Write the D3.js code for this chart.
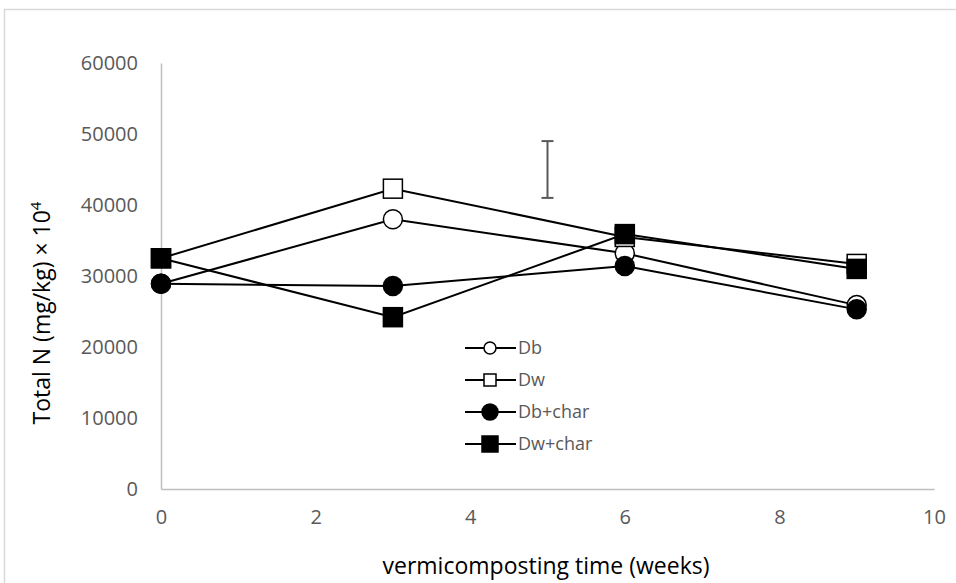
<!DOCTYPE html>
<html>
<head>
<meta charset="utf-8">
<script src="https://cdn.jsdelivr.net/npm/d3@7"></script>
<style>
  body { margin: 0; background: #fff; }
</style>
</head>
<body>
<div id="chart-area"></div>
<script>

// Data
let weeks = [0, 3, 6, 9];
let db = [28900, 38000, 33200, 25900];
let dw = [32500, 42300, 35500, 31700];
let dbChar = [28900, 28600, 31400, 25300];
let dwChar = [32500, 24200, 35900, 31000];
let seriesNames = ["Db", "Dw", "Db+char", "Dw+char"];
let xTicks = [0, 2, 4, 6, 8, 10];
let yTicks = [0, 10000, 20000, 30000, 40000, 50000, 60000];
// single error bar shown in the plot (week 5)
let errWeek = 5;
let errRange = [41000, 49000];

let font = "'Open Sans', sans-serif";

// SVG drawing area
let margin = {top: 63, right: 22, bottom: 94, left: 161};
let width = 956 - margin.left - margin.right,
    height = 583 - margin.top - margin.bottom;

let root = d3.select("#chart-area").append("svg")
    .attr("width", 956)
    .attr("height", 583);

// chart border
root.append("rect")
    .attr("x", 4.5).attr("y", 9.5)
    .attr("width", 990).attr("height", 620)
    .attr("fill", "none")
    .attr("stroke", "#d9d9d9")
    .attr("stroke-width", 1.5);

let svg = root.append("g")
    .attr("transform", "translate(" + margin.left + "," + margin.top + ")");

// Scales
let x = d3.scaleLinear().domain([0, 10]).range([0, width]);
let y = d3.scaleLinear().domain([0, 60000]).range([height, 0]);

// Axes
let xAxis = d3.axisBottom(x).tickValues(xTicks).tickSize(0).tickPadding(21);
let yAxis = d3.axisLeft(y).tickValues(yTicks).tickSize(0).tickPadding(23)
    .tickFormat(d3.format("d"));

let xGroup = svg.append("g")
    .attr("class", "axis x-axis")
    .attr("transform", "translate(0," + height + ")")
    .call(xAxis);
let yGroup = svg.append("g")
    .attr("class", "axis y-axis")
    .call(yAxis);

[xGroup, yGroup].forEach(g => {
  g.attr("font-family", font).attr("font-size", 20);
  g.selectAll("text").attr("fill", "#595959");
  g.select(".domain").attr("stroke", "#bfbfbf").attr("stroke-width", 1.5);
});

// Axis titles
root.append("text")
    .attr("x", 546)
    .attr("y", 574)
    .attr("text-anchor", "middle")
    .style("font-family", font)
    .style("font-size", "23px")
    .text("vermicomposting time (weeks)");

let yTitle = root.append("text")
    .attr("transform", "translate(50,313) rotate(-90)")
    .attr("text-anchor", "middle")
    .style("font-family", font)
    .style("font-size", "23px");
yTitle.append("tspan").text("Total N (mg/kg) \u00d7 10");
yTitle.append("tspan").attr("dy", -9).style("font-size", "15px").text("4");

// Error bar
let eb = svg.append("g").attr("stroke", "#595959").attr("stroke-width", 2);
eb.append("line")
    .attr("x1", x(errWeek)).attr("x2", x(errWeek))
    .attr("y1", y(errRange[0])).attr("y2", y(errRange[1]));
errRange.forEach(v => {
  eb.append("line")
    .attr("x1", x(errWeek) - 6).attr("x2", x(errWeek) + 6)
    .attr("y1", y(v)).attr("y2", y(v));
});

// Series
let series = [
  {name: seriesNames[0], values: db, shape: "circle", filled: false},
  {name: seriesNames[1], values: dw, shape: "square", filled: false},
  {name: seriesNames[2], values: dbChar, shape: "circle", filled: true},
  {name: seriesNames[3], values: dwChar, shape: "square", filled: true}
];

let line = d3.line()
    .x((d, i) => x(weeks[i]))
    .y(d => y(d));

function drawMarker(g, s, cx, cy, size) {
  let fill = s.filled ? "#000" : "#fff";
  if (s.shape == "circle") {
    g.append("circle")
      .attr("cx", cx).attr("cy", cy).attr("r", size / 2)
      .attr("fill", fill).attr("stroke", "#000").attr("stroke-width", 1.5);
  } else {
    g.append("rect")
      .attr("x", cx - size / 2).attr("y", cy - size / 2)
      .attr("width", size).attr("height", size)
      .attr("fill", fill).attr("stroke", "#000").attr("stroke-width", 1.5);
  }
}

series.forEach(s => {
  let g = svg.append("g");
  g.append("path")
    .datum(s.values)
    .attr("d", line)
    .attr("fill", "none")
    .attr("stroke", "#000")
    .attr("stroke-width", 2);
  s.values.forEach((v, i) => drawMarker(g, s, x(weeks[i]), y(v), 19));
});

// Legend
let legend = root.append("g");
series.forEach((s, i) => {
  let ly = 348 + i * 32;
  let g = legend.append("g");
  g.append("line")
    .attr("x1", 465).attr("x2", 516)
    .attr("y1", ly).attr("y2", ly)
    .attr("stroke", "#000").attr("stroke-width", 2);
  drawMarker(g, s, 490, ly, s.filled ? 16 : 12);
  g.append("text")
    .attr("x", 518).attr("y", ly + 6)
    .style("font-family", font)
    .style("font-size", "18px")
    .style("fill", "#595959")
    .text(s.name);
});

</script>
</body>
</html>
